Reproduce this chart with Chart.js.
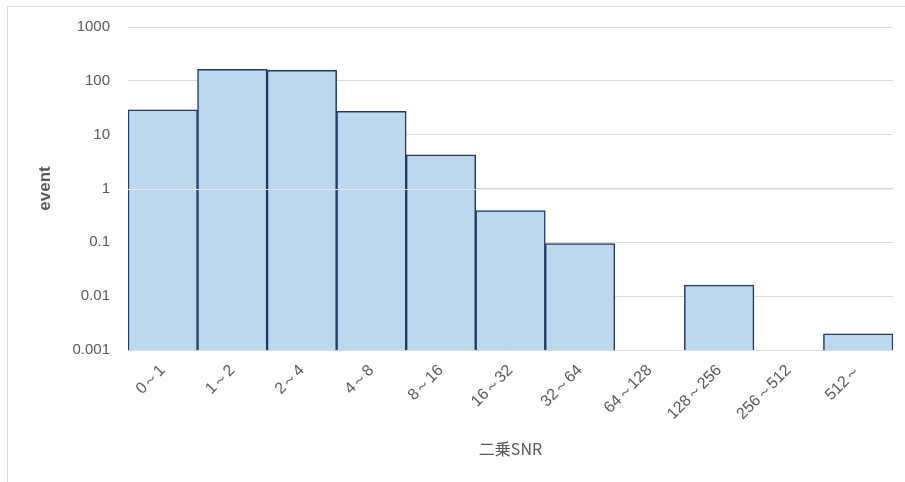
<!DOCTYPE html>
<html>
<head>
<meta charset="utf-8">
<script src="https://cdn.jsdelivr.net/npm/chart.js@4/dist/chart.umd.min.js"></script>
<style>
  html, body { margin: 0; padding: 0; background: #ffffff; overflow: hidden; }
  #wrap { position: relative; width: 905px; height: 482px; }
  #frame { position: absolute; left: 7px; top: 6px; width: 1000px; height: 1000px;
           border-top: 1px solid #d9d9d9; border-left: 1px solid #d9d9d9; box-sizing: border-box; }
  canvas { position: absolute; left: 0; top: 0; }
</style>
</head>
<body>
<div id="wrap">
  <div id="frame"></div>
  <canvas id="chart" width="905" height="482"></canvas>
</div>
<script>
// SNR² bins and event counts per bin (empty bins left as null)
const categories = ['0～1', '1～2', '2～4', '4～8', '8～16', '16～32', '32～64', '64～128', '128～256', '256～512', '512～'];
const events = [29, 164, 156, 27, 4.24, 0.39, 0.095, null, 0.016, null, 0.002];

// Decade ticks on the log axis and their printed labels
const yTickValues = [0.001, 0.01, 0.1, 1, 10, 100, 1000];
const yTickLabels = ['0.001', '0.01', '0.1', '1', '10', '100', '1000'];

const xTitle = '二乗SNR';
const yTitle = 'event';

const textColor = '#595959';
const gridColor = '#d9d9d9';

// The unit gridline is drawn again over the bars
const unitLine = {
  id: 'unitLine',
  afterDatasetsDraw(chart) {
    const y = chart.scales.y.getPixelForValue(1);
    const { left, right } = chart.chartArea;
    const ctx = chart.ctx;
    ctx.save();
    ctx.strokeStyle = 'rgba(230,232,236,0.95)';
    ctx.lineWidth = 1;
    ctx.beginPath();
    ctx.moveTo(left, Math.round(y) + 0.5);
    ctx.lineTo(right, Math.round(y) + 0.5);
    ctx.stroke();
    ctx.restore();
  }
};

new Chart(document.getElementById('chart'), {
  type: 'bar',
  data: {
    labels: categories,
    datasets: [{
      data: events,
      backgroundColor: '#bdd7ee',
      borderColor: '#203864',
      borderWidth: 1.5,
      categoryPercentage: 1.0,
      barPercentage: 1.0
    }]
  },
  options: {
    responsive: false,
    animation: false,
    devicePixelRatio: 1,
    layout: { padding: { left: 0, right: 12, top: 27, bottom: 0 } },
    plugins: { legend: { display: false }, tooltip: { enabled: false } },
    scales: {
      x: {
        grid: { display: false, drawTicks: false },
        border: { display: false },
        ticks: {
          color: textColor,
          font: { family: 'Liberation Sans', size: 16 },
          minRotation: 45,
          maxRotation: 45,
          padding: 11,
          autoSkip: false
        },
        title: {
          display: true,
          text: xTitle,
          color: textColor,
          font: { family: 'Noto Sans CJK JP', size: 16 },
          padding: { top: 0, bottom: 23 }
        },
        afterFit(scale) { scale.height = 132; }
      },
      y: {
        type: 'logarithmic',
        min: 0.001,
        max: 1000,
        grid: { color: gridColor, lineWidth: 1, drawTicks: false },
        border: { display: false },
        afterBuildTicks(scale) {
          scale.ticks = yTickValues.map(v => ({ value: v }));
        },
        ticks: {
          color: textColor,
          font: { family: 'Liberation Sans', size: 15 },
          padding: 18,
          callback(value) {
            const i = yTickValues.findIndex(v => Math.abs(v - value) / v < 1e-6);
            return i >= 0 ? yTickLabels[i] : '';
          }
        },
        title: {
          display: true,
          text: yTitle,
          color: textColor,
          font: { family: 'Liberation Sans', size: 17, weight: 'bold' },
          padding: { top: 35, bottom: 0 }
        },
        afterFit(scale) { scale.width = 128; }
      }
    }
  },
  plugins: [unitLine]
});
</script>
</body>
</html>
